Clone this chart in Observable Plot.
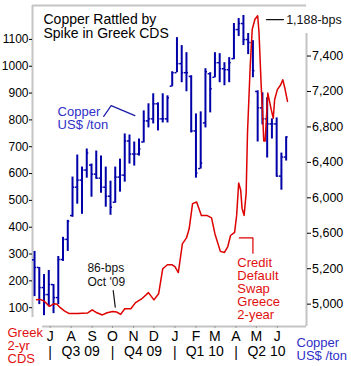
<!DOCTYPE html>
<html><head><meta charset="utf-8">
<script src="https://cdn.jsdelivr.net/npm/d3@7"></script>
<script src="https://cdn.jsdelivr.net/npm/@observablehq/plot@0.6"></script>
<style>
html,body{margin:0;padding:0;background:#fff;}
#chart svg{display:block;}
</style></head><body><div id="chart"></div>
<script>
// ---- Greek 2-yr CDS (bps) ----
const cdsDates = ["2009-06-11","2009-06-16","2009-06-22","2009-06-30","2009-07-07","2009-07-11","2009-07-16","2009-07-22","2009-07-29","2009-08-10","2009-08-25","2009-09-01","2009-09-08","2009-09-16","2009-09-23","2009-10-01","2009-10-07","2009-10-13","2009-10-19","2009-10-28","2009-11-04","2009-11-14","2009-11-23","2009-12-01","2009-12-08","2009-12-14","2009-12-21","2009-12-28","2010-01-01","2010-01-06","2010-01-12","2010-01-18","2010-01-22","2010-01-27","2010-02-02","2010-02-09","2010-02-17","2010-02-24","2010-03-01","2010-03-09","2010-03-15","2010-03-20","2010-03-24","2010-03-30","2010-04-02","2010-04-05","2010-04-08","2010-04-10","2010-04-13","2010-04-16","2010-04-18","2010-04-22","2010-04-25","2010-04-29","2010-05-03","2010-05-05","2010-05-08","2010-05-10","2010-05-12","2010-05-14","2010-05-16","2010-05-18","2010-05-20","2010-05-23","2010-05-26","2010-05-28","2010-06-01","2010-06-06","2010-06-09","2010-06-12","2010-06-16"];
const cdsBps = [130,131,125,105,115,113,100,88,78,78,80,92,81,73,81,86,84,75,96,96,119,135,156,129,152,245,260,260,253,231,338,360,394,488,494,444,444,435,375,310,306,328,369,381,444,565,538,470,444,526,751,1000,1138,1175,1188,1125,938,838,721,721,813,900,875,838,806,875,913,931,950,919,869];

// ---- Copper weekly bars (US$/ton) ----
const copperFirstWeek = "2009-06-08";
const copperOpen  = [5300,5214,4987,4908,5021,4874,5304,5531,5800,6120,6200,6313,6370,6267,6222,6120,6018,5950,6234,6256,6641,6494,6494,6630,6868,6891,7061,6891,6891,7260,7412,7514,7412,7370,6755,6330,6845,7400,7360,7525,7457,7446,7570,7899,7967,7786,7752,7200,7015,6891,6834,6834,6245,6460];
const copperHigh  = [5395,5214,5134,5180,5021,5338,5554,5746,6234,6483,6347,6551,6381,6528,6471,6347,6188,6347,6437,6721,6709,6630,6664,6981,7061,7174,7072,7174,7151,7423,7808,7718,7638,7378,6947,6970,7457,7412,7638,7627,7525,7582,7967,8024,8058,7854,7774,7208,7185,7129,6891,6902,6505,6687];
const copperLow   = [4885,4795,4670,4772,4693,4795,5282,5395,5780,5928,5814,6222,6007,6211,6052,5894,5803,5939,6064,6177,6381,6358,6471,6619,6789,6834,6755,6845,6845,7253,7412,7299,7197,6732,6222,6324,6789,6959,7355,7299,7265,7299,7559,7820,7718,7616,7355,6630,6823,6449,6664,6234,6086,6415];
const copperClose = [5214,4987,4908,5021,4874,5304,5531,5735,6120,6200,6313,6505,6267,6222,6120,6018,5894,6234,6256,6641,6494,6494,6551,6868,6891,7061,6891,6891,7129,7412,7514,7412,7412,6755,6279,6392,7423,7231,7525,7457,7446,7525,7899,7967,7786,7752,7435,7015,6891,6834,6834,6245,6460,6687];

// ---- axes ----
const cdsTicks = [100,200,300,400,500,600,700,800,900,1000,1100];
const copperTicks = [4800,5200,5600,6000,6400,6800,7200,7600];
const copperTickLabels = ["5,000","5,200","5,600","6,000","6,400","6,800","7,200","7,400"];
const monthStarts = ["2009-07-01","2009-08-01","2009-09-01","2009-10-01","2009-11-01","2009-12-01","2010-01-01","2010-02-01","2010-03-01","2010-04-01","2010-05-01","2010-06-01"];
const monthLabels = ["J","A","S","O","N","D","J","F","M","A","M","J"];
const quarterStarts = ["2009-07-01","2009-10-01","2010-01-01","2010-04-01"];
const quarterMids = ["2009-08-15","2009-11-15","2010-02-14","2010-05-16"];
const quarterLabels = ["Q3 09","Q4 09","Q1 10","Q2 10"];

// ---- texts ----
const titleText = "Copper Rattled by\nSpike in Greek CDS";
const cdsLegend = "Greek\n2-yr\nCDS";
const copperLegend = "Copper\nUS$ /ton";
const notes = [
  {text: "86-bps\nOct '09", date: "2009-08-25", v: 224, color: "#111", size: 12, lh: 1.2},
  {text: "Copper\nUS$ /ton", date: "2009-07-12", v: 807, color: "#3030c8", size: 13, lh: 1.0},
  {text: "1,188-bps", date: "2010-06-14", v: 1174, color: "#111", size: 12.5, lh: 1.0},
  {text: "Credit\nDefault\nSwap\nGreece\n2-year", date: "2010-04-03", v: 172, color: "#e01010", size: 13, lh: 1.0}
];
const pointers = [
  {id: "oct", color: "#111", pts: [["2009-10-02",164],["2009-10-05",102]]},
  {id: "cu", color: "#1a1aa8", pts: [["2009-09-18",813],["2009-09-29",853],["2009-11-03",816]]},
  {id: "peak", color: "#111", pts: [["2010-05-16",1174],["2010-06-10",1174]]},
  {id: "cds", color: "#dd0000", pts: [["2010-04-06",360],["2010-04-26",360],["2010-04-26",303]]}
];

const D = s => new Date(s);
const blue = "#0000a8", red = "#dd0000", gray = "#c4c4c4";
const xDomain = [D("2009-06-05"), D("2010-07-14")];
const yDomain = [29.9, 1226.4];
// align the copper (right) axis with the CDS (left) axis
const copperToCds = d3.scaleLinear().domain([4800, 7600]).range([113.2, 1038]);
const copperTickPos = copperTicks.map(c => copperToCds(c));

const cds = cdsDates.map((d, i) => ({date: D(d), v: cdsBps[i]}));
const weeks = copperClose.map((_, i) => ({
  date: d3.utcDay.offset(D(copperFirstWeek), 7 * i),
  o: copperToCds(copperOpen[i]), h: copperToCds(copperHigh[i]),
  l: copperToCds(copperLow[i]), c: copperToCds(copperClose[i])
}));
const ptRows = pointers.flatMap(p => p.pts.map(([d, v]) => ({id: p.id, color: p.color, date: D(d), v})));

const noteMarks = notes.map(n => Plot.text([n], {x: d => D(d.date), y: "v", text: "text", fill: n.color,
  textAnchor: "start", lineAnchor: "middle", fontSize: n.size, lineHeight: n.lh}));

const chart = Plot.plot({
  width: 351, height: 366,
  marginLeft: 32, marginRight: 45, marginTop: 5, marginBottom: 40,
  style: {fontFamily: "'Liberation Sans', Arial, sans-serif", fontSize: "12px", background: "#fff", color: "#000", overflow: "visible"},
  x: {type: "utc", domain: xDomain, axis: null},
  y: {domain: yDomain, axis: null},
  marks: [
    // frame pieces
    Plot.ruleY([yDomain[1]], {stroke: gray, strokeWidth: 2}),
    Plot.ruleX([xDomain[0]], {y1: 63.5, y2: yDomain[1], stroke: gray, strokeWidth: 2}),
    Plot.ruleY([yDomain[0]], {x1: () => D("2009-06-20"), x2: () => xDomain[1], stroke: gray, strokeWidth: 2}),
    Plot.ruleX([xDomain[1]], {y1: yDomain[0], y2: 1122, stroke: gray, strokeWidth: 2}),
    // axes
    Plot.axisY(cdsTicks, {anchor: "left", tickSize: 3, tickPadding: 1, fontSize: 12, label: null, tickFormat: d => String(d)}),
    Plot.axisY(copperTickPos, {anchor: "right", tickSize: 4, tickPadding: 1.5, fontSize: 12.5, label: null,
      tickFormat: d => copperTickLabels[copperTickPos.indexOf(d)]}),
    Plot.axisX(monthStarts.map(D), {anchor: "bottom", tickSize: 2, tickPadding: 3, fontSize: 14, label: null, stroke: "#999",
      tickFormat: d => monthLabels[monthStarts.findIndex(m => +D(m) === +d)]}),
    Plot.text(quarterLabels, {x: (d, i) => D(quarterMids[i]), frameAnchor: "bottom", dy: 29, fontSize: 14}),
    Plot.text(quarterStarts, {x: d => D(d), text: () => "|", frameAnchor: "bottom", dy: 30, fontSize: 14}),
    // copper OHLC bars
    Plot.ruleX(weeks, {x: "date", y1: "l", y2: "h", stroke: blue, strokeWidth: 2}),
    Plot.ruleY(weeks, {y: "o", x1: d => d3.utcDay.offset(d.date, -3), x2: "date", stroke: blue, strokeWidth: 1.5}),
    Plot.ruleY(weeks, {y: "c", x1: "date", x2: d => d3.utcDay.offset(d.date, 3), stroke: blue, strokeWidth: 1.5}),
    // CDS line
    Plot.line(cds, {x: "date", y: "v", stroke: red, strokeWidth: 1.5}),
    // annotation pointers
    Plot.line(ptRows, {x: "date", y: "v", z: "id", stroke: "color", strokeWidth: 1.2}),
    // annotation texts
    ...noteMarks,
    // title and side legends
    Plot.text([titleText], {frameAnchor: "top-left", dx: 11, dy: 9, lineAnchor: "top", textAnchor: "start", fontSize: 14, lineHeight: 1.0, fill: "#000"}),
    Plot.text([cdsLegend], {frameAnchor: "bottom-left", dx: -25, dy: 1, lineAnchor: "top", textAnchor: "start", fontSize: 13, lineHeight: 1.0, fill: "#e01010"}),
    Plot.text([copperLegend], {frameAnchor: "bottom-right", dx: -10, dy: 11, lineAnchor: "top", textAnchor: "start", fontSize: 13, lineHeight: 1.0, fill: "#3030c8"})
  ]
});
document.getElementById("chart").appendChild(chart);
</script>
</body></html>
